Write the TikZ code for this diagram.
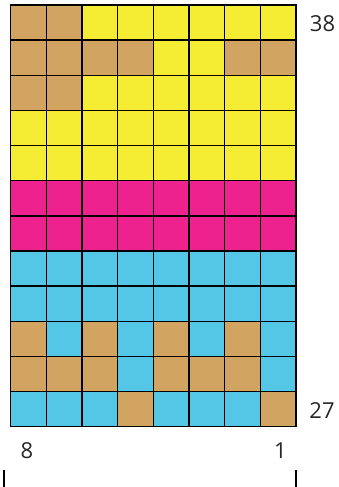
\documentclass[tikz,border=0pt]{standalone}
\usepackage{fontspec}
\setmainfont{Open Sans}
\definecolor{colT}{RGB}{210,164,98}
\definecolor{colY}{RGB}{245,236,52}
\definecolor{colP}{RGB}{237,34,143}
\definecolor{colC}{RGB}{84,199,230}
\begin{document}
\begin{tikzpicture}[x=1pt,y=-1pt,
  gridline/.style={draw=black,line width=1.4pt,line cap=rect},
  numlabel/.style={font=\fontsize{22}{22}\selectfont,text=black!85,inner sep=0pt,anchor=center},
  tick/.style={draw=black,line width=1.6pt}]
\useasboundingbox (0,0) rectangle (338,487);
\def\xo{10.7}\def\yo{5}\def\cw{35.66}\def\ch{35.14}
\foreach \row [count=\r from 0] in {
  {T,T,Y,Y,Y,Y,Y,Y},
  {T,T,T,T,Y,Y,T,T},
  {T,T,Y,Y,Y,Y,Y,Y},
  {Y,Y,Y,Y,Y,Y,Y,Y},
  {Y,Y,Y,Y,Y,Y,Y,Y},
  {P,P,P,P,P,P,P,P},
  {P,P,P,P,P,P,P,P},
  {C,C,C,C,C,C,C,C},
  {C,C,C,C,C,C,C,C},
  {T,C,T,C,T,C,T,C},
  {T,T,T,C,T,T,T,C},
  {C,C,C,T,C,C,C,T}}{
  \foreach \c [count=\k from 0] in \row {
    \fill[col\c] ({\xo+\k*\cw},{\yo+\r*\ch}) rectangle ++(\cw,\ch);
  }
}
\foreach \k in {0,...,8}{
  \draw[gridline] ({\xo+\k*\cw},\yo) -- ++(0,{12*\ch});
}
\foreach \r in {0,...,12}{
  \draw[gridline] (\xo,{\yo+\r*\ch}) -- ++({8*\cw},0);
}
\node[numlabel] (top) at (322.5,23.5) {38};
\node[numlabel] (bottom) at (322,411) {27};
\node[numlabel] (left) at (27,450.5) {8};
\node[numlabel] (right) at (280.5,450.5) {1};
\coordinate (tl1) at (4,470);
\coordinate (tl2) at (4,487);
\coordinate (tr1) at (296,470);
\coordinate (tr2) at (296,487);
\draw[tick] (tl1) -- (tl2);
\draw[tick] (tr1) -- (tr2);
\end{tikzpicture}
\end{document}
